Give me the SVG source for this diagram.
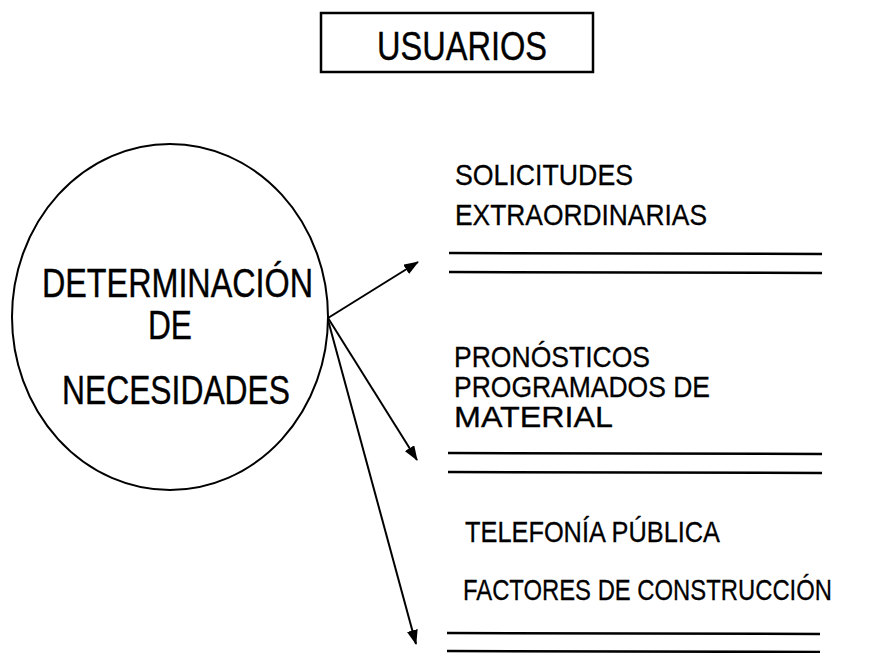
<svg xmlns="http://www.w3.org/2000/svg" width="876" height="653" viewBox="0 0 876 653">
<style>
.big{font-family:"Liberation Sans",Arial,sans-serif;font-size:40px;fill:#000;stroke:#000;stroke-width:0.4}
.sm{font-family:"Liberation Sans",Arial,sans-serif;font-size:30px;fill:#000;stroke:#000;stroke-width:0.3}
.ln{stroke:#000;stroke-width:2.5;fill:none}
.conn{stroke:#000;stroke-width:2;fill:none}
</style>
<defs>
<marker id="ah" markerUnits="userSpaceOnUse" markerWidth="15" markerHeight="11" refX="14" refY="5.5" orient="auto">
<path d="M0,0 L15,5.5 L0,11 Z" fill="#000"/>
</marker>
</defs>
<rect width="876" height="653" fill="#fff"/>
<g id="usuarios">
<rect x="321" y="13" width="272" height="59" class="ln"/>
<text class="big" x="377" y="60" textLength="170" lengthAdjust="spacingAndGlyphs">USUARIOS</text>
</g>
<g id="determinacion">
<ellipse cx="170" cy="317" rx="158" ry="173" stroke="#000" stroke-width="2" fill="none"/>
<text class="big" x="42" y="297" textLength="271" lengthAdjust="spacingAndGlyphs">DETERMINACIÓN</text>
<text class="big" x="148" y="339" textLength="44" lengthAdjust="spacingAndGlyphs">DE</text>
<text class="big" x="62" y="404" textLength="228" lengthAdjust="spacingAndGlyphs">NECESIDADES</text>
</g>
<g id="solicitudes">
<text class="sm" x="455" y="185" textLength="178" lengthAdjust="spacingAndGlyphs">SOLICITUDES</text>
<text class="sm" x="455" y="225" textLength="252" lengthAdjust="spacingAndGlyphs">EXTRAORDINARIAS</text>
<line x1="449" y1="253" x2="822" y2="254" class="ln"/>
<line x1="449" y1="272" x2="822" y2="273" class="ln"/>
</g>
<g id="pronosticos">
<text class="sm" x="454" y="367" textLength="196" lengthAdjust="spacingAndGlyphs">PRONÓSTICOS</text>
<text class="sm" x="454" y="397" textLength="256" lengthAdjust="spacingAndGlyphs">PROGRAMADOS DE</text>
<text class="sm" x="454" y="427" textLength="159" lengthAdjust="spacingAndGlyphs">MATERIAL</text>
<line x1="448" y1="453" x2="822" y2="454" class="ln"/>
<line x1="448" y1="472" x2="822" y2="473" class="ln"/>
</g>
<g id="telefonia">
<text class="sm" x="465" y="542" textLength="255" lengthAdjust="spacingAndGlyphs">TELEFONÍA PÚBLICA</text>
<text class="sm" x="463" y="600" textLength="369" lengthAdjust="spacingAndGlyphs">FACTORES DE CONSTRUCCIÓN</text>
<line x1="447" y1="633" x2="820" y2="634" class="ln"/>
<line x1="447" y1="651" x2="820" y2="652" class="ln"/>
</g>
<g id="connectors">
<line x1="328" y1="318" x2="418" y2="262" class="conn" marker-end="url(#ah)"/>
<line x1="328" y1="318" x2="417" y2="460" class="conn" marker-end="url(#ah)"/>
<line x1="328" y1="320" x2="416" y2="644" class="conn" marker-end="url(#ah)"/>
</g>
</svg>
